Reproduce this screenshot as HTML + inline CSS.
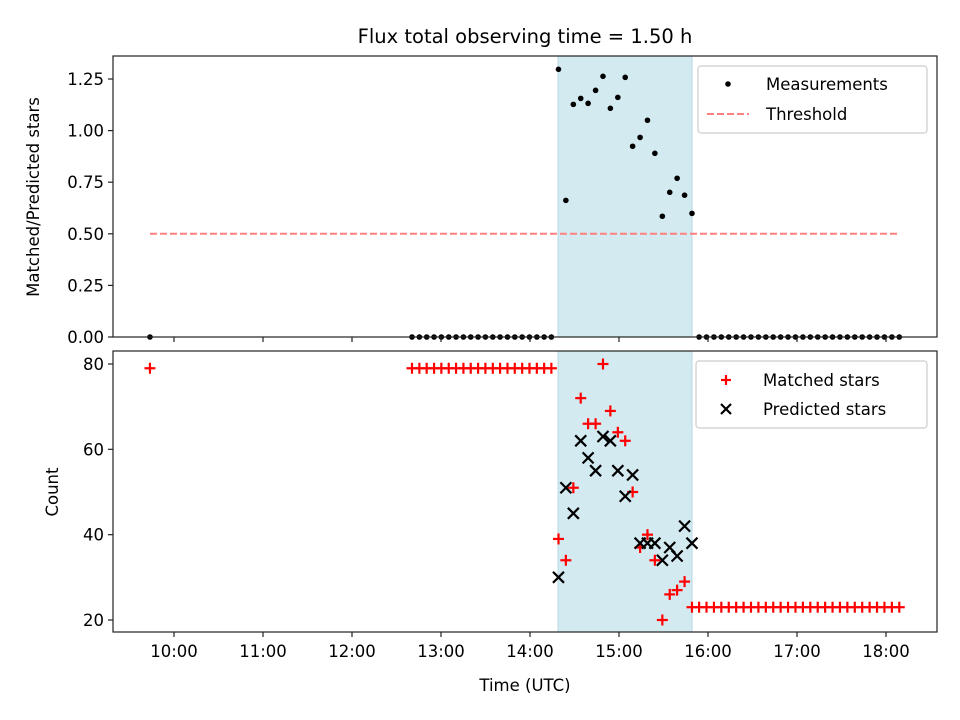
<!DOCTYPE html>
<html><head><meta charset="utf-8"><style>
body{margin:0;background:#fff}
svg{display:block;font-family:"DejaVu Sans","Liberation Sans",sans-serif}
</style></head><body>
<svg id="c" width="960" height="720" viewBox="0 0 960 720"></svg>
<script>
// ---- data ----
const preTimes = [9.73];
const gapTimes = [12.674,12.757,12.839,12.922,13.004,13.087,13.169,13.252,13.334,13.417,13.499,13.582,13.664,13.747,13.829,13.912,13.994,14.077,14.159,14.24];
const shadeTimes = [14.32,14.403,14.487,14.57,14.653,14.737,14.82,14.903,14.987,15.07,15.153,15.237,15.32,15.403,15.487,15.57,15.653,15.737,15.82];
const ratioShade = [1.297,0.662,1.127,1.156,1.132,1.195,1.263,1.108,1.161,1.258,0.924,0.967,1.050,0.890,0.585,0.701,0.769,0.687,0.599];
const matchedShade = [39,34,51,72,66,66,80,69,64,62,50,37,40,34,20,26,27,29,23];
const predictedShade = [30,51,45,62,58,55,63,62,55,49,54,38,38,38,34,37,35,42,38];
const afterCount = 28;
const afterStart = 15.90;
const afterStep = 0.0833;
const matchedPre = 79;
const matchedAfter = 23;
const threshold = 0.5;
const shadeRange = [14.315, 15.82];
const xTicks = [10,11,12,13,14,15,16,17,18];
const xTickLabels = ["10:00","11:00","12:00","13:00","14:00","15:00","16:00","17:00","18:00"];
const topTicks = [0,0.25,0.5,0.75,1.0,1.25];
const topTickLabels = ["0.00","0.25","0.50","0.75","1.00","1.25"];
const botTicks = [20,40,60,80];

const afterTimes = [];
for (let i=0;i<afterCount;i++) afterTimes.push(afterStart+i*afterStep);

// ---- axes ----
const L=113,R=937,T1=56,B1=337,T2=351,B2=632;
const X = h => 174 + (h-10)*89;
const Y1 = v => 337 - v*206.4;
const Y2 = v => 620 - (v-20)*4.2667;
const FS = 16.5;

const svg=document.getElementById('c');
const NS='http://www.w3.org/2000/svg';
function mk(tag,attrs,parent,text){const e=document.createElementNS(NS,tag);for(const k in attrs)e.setAttribute(k,attrs[k]);if(text!==undefined)e.textContent=text;(parent||svg).appendChild(e);return e;}

let e=mk('text',{x:525,y:43,'text-anchor':'middle','font-size':'19.5'},svg,'Flux total observing time = 1.50 h');



function panel(T,B,name){
  const g=mk('g',{});
  
  
  const s=mk('rect',{x:X(shadeRange[0]),y:T,width:X(shadeRange[1])-X(shadeRange[0]),height:B-T,fill:'#d3eaf1',stroke:'#b5d9e6','stroke-width':1},g);
  
  
  return g;
}
function frame(T,B,g){
  mk('rect',{x:L,y:T,width:R-L,height:B-T,fill:'none',stroke:'#222','stroke-width':1.2},g);
  xTicks.forEach((t)=>{mk('line',{x1:X(t),x2:X(t),y1:B,y2:B+5,stroke:'#222','stroke-width':1.2},g);});
}

// ---- top panel ----
const gt=panel(T1,B1,'ratio-panel');
const thr=mk('line',{x1:X(preTimes[0]),x2:X(afterTimes[afterTimes.length-1]),y1:Y1(threshold),y2:Y1(threshold),stroke:'#ff8080','stroke-width':2,'stroke-dasharray':'7,3'},gt);


function dot(t,v){const c=mk('circle',{cx:X(t),cy:Y1(v),r:2.8,fill:'#000'},gt);
  
  }
preTimes.forEach(t=>dot(t,0));
gapTimes.forEach(t=>dot(t,0));
shadeTimes.forEach((t,i)=>dot(t,ratioShade[i]));
afterTimes.forEach(t=>dot(t,0));
frame(T1,B1,gt);
topTicks.forEach((t,i)=>{mk('line',{x1:L-5,x2:L,y1:Y1(t),y2:Y1(t),stroke:'#222','stroke-width':1.2},gt);
  mk('text',{x:L-9,y:Y1(t)+6,'text-anchor':'end','font-size':FS},gt,topTickLabels[i]);});
e=mk('text',{x:39,y:197,'text-anchor':'middle','font-size':FS,transform:'rotate(-90 39 197)'},gt,'Matched/Predicted stars');


const lg1=mk('g',{},gt);


mk('rect',{x:698,y:66,width:229,height:67,rx:3,fill:'#fff','fill-opacity':0.8,stroke:'#ccc','stroke-width':1.2},lg1);
mk('circle',{cx:728,cy:84,r:2.8,fill:'#000'},lg1);
mk('text',{x:766,y:90,'font-size':FS},lg1,'Measurements');
mk('line',{x1:707,x2:749,y1:114,y2:114,stroke:'#ff8080','stroke-width':2,'stroke-dasharray':'7,3'},lg1);
mk('text',{x:766,y:120,'font-size':FS},lg1,'Threshold');

// ---- bottom panel ----
const gb=panel(T2,B2,'count-panel');
function plus(t,v){const g=mk('g',{stroke:'#f00','stroke-width':2.2},gb);
  
  
  const x=X(t),y=Y2(v);
  mk('line',{x1:x-5.5,x2:x+5.5,y1:y,y2:y},g);mk('line',{x1:x,x2:x,y1:y-5.5,y2:y+5.5},g);}
function cross(t,v){const g=mk('g',{stroke:'#000','stroke-width':2.2},gb);
  
  
  const x=X(t),y=Y2(v);
  mk('line',{x1:x-5.5,x2:x+5.5,y1:y-5.5,y2:y+5.5},g);mk('line',{x1:x-5.5,x2:x+5.5,y1:y+5.5,y2:y-5.5},g);}
preTimes.forEach(t=>plus(t,matchedPre));
gapTimes.forEach(t=>plus(t,matchedPre));
shadeTimes.forEach((t,i)=>plus(t,matchedShade[i]));
afterTimes.forEach(t=>plus(t,matchedAfter));
shadeTimes.forEach((t,i)=>cross(t,predictedShade[i]));
frame(T2,B2,gb);
botTicks.forEach(t=>{mk('line',{x1:L-5,x2:L,y1:Y2(t),y2:Y2(t),stroke:'#222','stroke-width':1.2},gb);
  mk('text',{x:L-9,y:Y2(t)+6,'text-anchor':'end','font-size':FS},gb,String(t));});
xTicks.forEach((t,i)=>{mk('text',{x:X(t),y:B2+25,'text-anchor':'middle','font-size':FS},gb,xTickLabels[i]);});
e=mk('text',{x:58,y:492,'text-anchor':'middle','font-size':FS,transform:'rotate(-90 58 492)'},gb,'Count');


e=mk('text',{x:525,y:691,'text-anchor':'middle','font-size':FS},gb,'Time (UTC)');


const lg2=mk('g',{},gb);


mk('rect',{x:696,y:361,width:231,height:67,rx:3,fill:'#fff','fill-opacity':0.8,stroke:'#ccc','stroke-width':1.2},lg2);
let p=mk('g',{stroke:'#f00','stroke-width':2.2},lg2);
mk('line',{x1:721,x2:731,y1:380,y2:380},p);mk('line',{x1:726,x2:726,y1:375,y2:385},p);
mk('text',{x:763,y:386,'font-size':FS},lg2,'Matched stars');
p=mk('g',{stroke:'#000','stroke-width':2.2},lg2);
mk('line',{x1:721,x2:731,y1:404,y2:414},p);mk('line',{x1:721,x2:731,y1:414,y2:404},p);
mk('text',{x:763,y:415,'font-size':FS},lg2,'Predicted stars');
</script>
</body></html>
